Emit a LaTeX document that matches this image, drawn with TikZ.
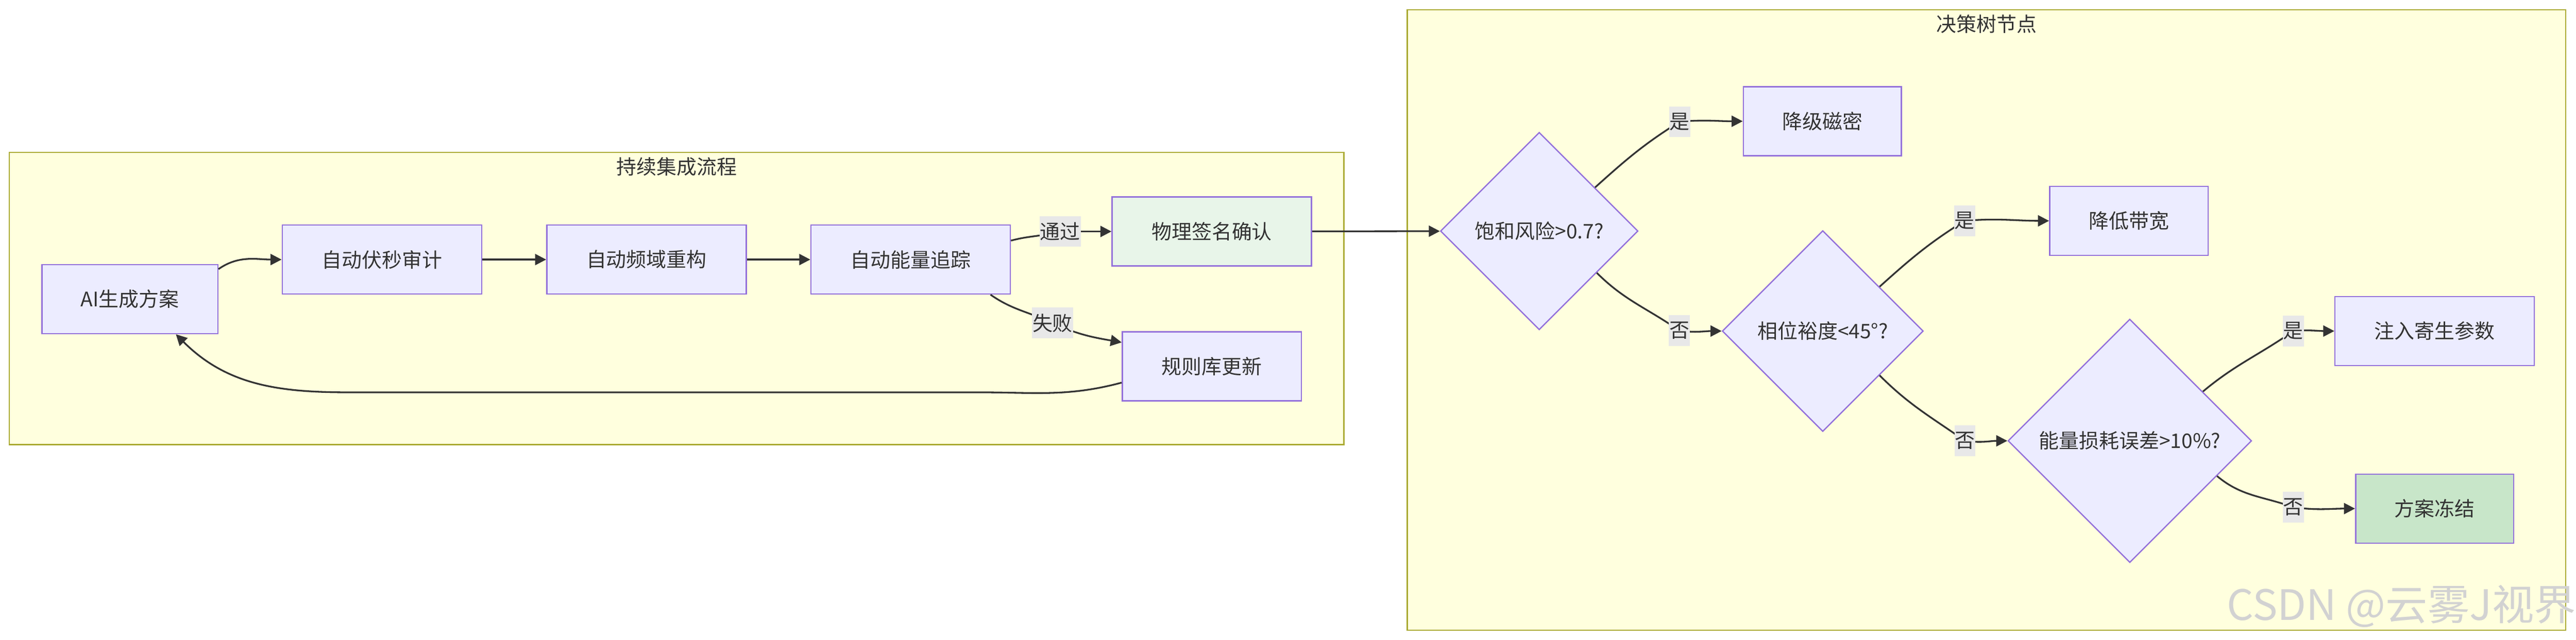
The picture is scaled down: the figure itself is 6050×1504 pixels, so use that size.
\documentclass[tikz,border=0pt]{standalone}
\usepackage{fontspec}
\setmainfont{Noto Sans CJK SC}
\usetikzlibrary{positioning,shapes.geometric,arrows.meta}

\definecolor{nodefill}{HTML}{ECECFF}
\definecolor{nodeline}{HTML}{9370DB}
\definecolor{groupfill}{HTML}{FFFFDE}
\definecolor{groupline}{HTML}{AAAA33}
\definecolor{signfill}{HTML}{E8F5E9}
\definecolor{freezefill}{HTML}{C8E6C9}
\definecolor{labelfill}{HTML}{E8E8E8}
\definecolor{edgegray}{HTML}{333333}
\definecolor{textgray}{HTML}{333333}

\begin{document}
\begin{tikzpicture} [
                x=0.01cm, y=0.01cm,
                font=\fontsize{13.4pt}{16pt}\selectfont,
                stepnode/.style={
                    rectangle,
                    draw=nodeline,
                    fill=nodefill,
                    text=textgray,
                    line width=0.03cm,
                    minimum height=1.62cm,
                    inner sep=0pt
                },
                decnode/.style={
                    diamond,
                    aspect=1,
                    draw=nodeline,
                    fill=nodefill,
                    text=textgray,
                    line width=0.03cm,
                    inner sep=0pt
                },
                groupbox/.style={
                    draw=groupline,
                    fill=groupfill,
                    line width=0.03cm
                },
                edgelabel/.style={
                    fill=labelfill,
                    text=textgray,
                    inner xsep=0.01cm,
                    inner ysep=0pt,
                    minimum height=0.72cm
                },
                flow/.style={draw=edgegray, line width=0.04cm},
                arr/.style={flow, -{Triangle[length=0.26cm,width=0.26cm]}}
            ]

                \useasboundingbox (0,0) rectangle (6050,1504);
                \fill[white] (0,0) rectangle (6050,1504);

                \draw[groupbox] (22,459) rectangle (3156,1146);
                \draw[groupbox] (3305,23) rectangle (6026,1481);
                \node[text=textgray]    (cititle)   at (1589,1112)     {持续集成流程};
                \node[text=textgray]    (dttitle)   at (4666,1448)     {决策树节点};

                \node[stepnode, minimum width=4.13cm]                   (aiplan)    at (305,801)                    {AI生成方案};
                \node[stepnode, minimum width=4.68cm]                   (voltsec)   at (897,894)                    {自动伏秒审计};
                \node[stepnode, minimum width=4.68cm]                   (freqdom)   [right=1.5cm of voltsec]        {自动频域重构};
                \node[stepnode, minimum width=4.68cm]                   (energy)    [right=1.49cm of freqdom]       {自动能量追踪};
                \node[stepnode, minimum width=4.68cm, fill=signfill]    (physsign)  at (2846,960)                   {物理签名确认};
                \node[stepnode, minimum width=4.20cm]                   (ruleupd)   [below=1.52cm of physsign]      {规则库更新};

                \node[decnode, minimum size=4.64cm]                     (satrisk)   at (3615,961)                   {饱和风险>0.7?};
                \node[decnode, minimum size=4.72cm]                     (phasemg)   at (4281,726)                   {相位裕度<45°?};
                \node[decnode, minimum size=5.72cm]                     (losserr)   at (5002,468)                   {能量损耗误差>10\%?};
                \node[stepnode, minimum width=3.71cm]                   (derate)    at (4280,1219)                  {降级磁密};
                \node[stepnode, minimum width=3.72cm]                   (lowbw)     at (5000,985)                   {降低带宽};
                \node[stepnode, minimum width=4.68cm]                   (parasit)   at (5718,726)                   {注入寄生参数};
                \node[stepnode, minimum width=3.71cm, fill=freezefill]  (freeze)    [below=2.52cm of parasit]       {方案冻结};

                \coordinate (pass)  at (2490,960);
                \coordinate (fail)  at (2472,745);
                \coordinate (yesA)  at (3945,1218);
                \coordinate (noA)   at (3944,727);
                \coordinate (yesB)  at (4614,985);
                \coordinate (noB)   at (4615,468);
                \coordinate (yesC)  at (5386,726);
                \coordinate (noC)   at (5386,312);
                \coordinate (loopR) at (2300,582);
                \coordinate (loopL) at (816,582);

                \draw[arr]  ([yshift=-0.12cm]aiplan.north east) to[out=35,in=180] (voltsec.west);
                \draw[arr]  (voltsec) -- (freqdom);
                \draw[arr]  (freqdom) -- (energy);
                \draw[flow] ([yshift=-0.38cm]energy.north east) to[out=15,in=195] (pass);
                \draw[arr]  (pass) -- (physsign);
                \draw[flow] ([xshift=-0.48cm]energy.south east) to[out=-35,in=155] (fail);
                \draw[arr]  (fail) to[out=-25,in=170] ([yshift=-0.26cm]ruleupd.north west);
                \draw[arr]  ([yshift=-0.38cm]ruleupd.west) to[out=195,in=0] (loopR) -- (loopL) to[out=180,in=-45] ([xshift=1.08cm]aiplan.south);
                \draw[arr]  (physsign) -- (satrisk);

                \draw[flow] (satrisk.38) to[out=42,in=212] (yesA);
                \draw[arr]  (yesA) to[out=5,in=180] (derate.west);
                \draw[flow] (satrisk.-36) to[out=-45,in=145] (noA);
                \draw[arr]  (noA) to[out=-8,in=180] (phasemg.west);
                \draw[flow] (phasemg.38) to[out=42,in=212] (yesB);
                \draw[arr]  (yesB) to[out=5,in=180] (lowbw.west);
                \draw[flow] (phasemg.-38) to[out=-45,in=145] (noB);
                \draw[arr]  (noB) to[out=-8,in=180] (losserr.west);
                \draw[flow] (losserr.34) to[out=40,in=215] (yesC);
                \draw[arr]  (yesC) to[out=5,in=180] (parasit.west);
                \draw[flow] (losserr.-22) to[out=-40,in=160] (noC);
                \draw[arr]  (noC) to[out=-8,in=180] (freeze.west);

                \node[edgelabel]    (passlbl)   at (pass)   {通过};
                \node[edgelabel]    (faillbl)   at (fail)   {失败};
                \node[edgelabel]    (yesAlbl)   at (yesA)   {是};
                \node[edgelabel]    (noAlbl)    at (noA)    {否};
                \node[edgelabel]    (yesBlbl)   at (yesB)   {是};
                \node[edgelabel]    (noBlbl)    at (noB)    {否};
                \node[edgelabel]    (yesClbl)   at (yesC)   {是};
                \node[edgelabel]    (noClbl)    at (noC)    {否};

                \node[text=gray!35, font=\fontsize{28pt}{30pt}\selectfont] (watermark) at (5640,79) {CSDN @云雾J视界};

            \end{tikzpicture}
\end{document}
